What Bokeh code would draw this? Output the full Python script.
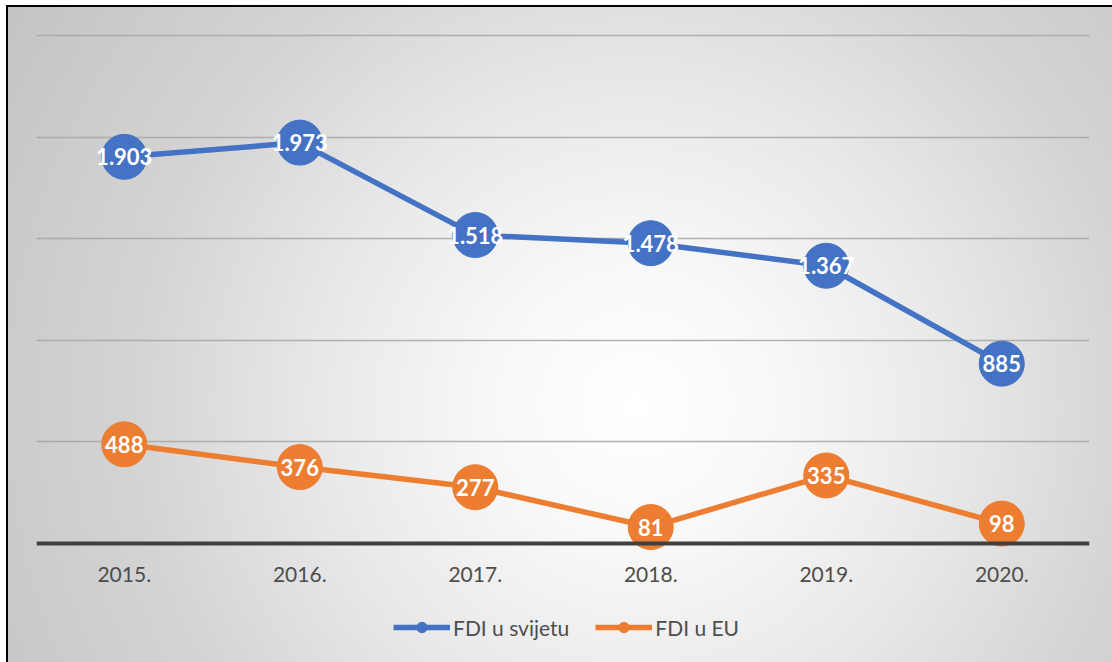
from bokeh.plotting import figure
from bokeh.models import ColumnDataSource, Legend, LegendItem, FactorRange, Range1d, FixedTicker
from bokeh.core.properties import value
from bokeh.embed import file_html
from bokeh.resources import INLINE

# ---- data ----
years = ["2015.", "2016.", "2017.", "2018.", "2019.", "2020."]
fdi_world = [1903, 1973, 1518, 1478, 1367, 885]
fdi_eu = [488, 376, 277, 81, 335, 98]
grid_ticks = [500, 1000, 1500, 2000, 2500]
series_names = ["FDI u svijetu", "FDI u EU"]


def fmt(v):
    return f"{v:,}".replace(",", ".")


src = ColumnDataSource(data=dict(
    year=years,
    world=fdi_world,
    eu=fdi_eu,
    world_lbl=[fmt(v) for v in fdi_world],
    eu_lbl=[fmt(v) for v in fdi_eu],
))

BLUE = "#4472C4"
ORANGE = "#ED7D31"
FONT = "Lato"

# frame covers the area below the baseline too (legend lives there);
# the category axis is pinned to y = 0
p = figure(frame_width=1053, frame_height=629,
           x_range=FactorRange(*years), y_range=Range1d(-585.7, 2510),
           output_backend="svg", toolbar_location=None,
           y_axis_location=None,
           min_border_left=36, min_border_right=23,
           min_border_top=33, min_border_bottom=0)

p.border_fill_alpha = 0
p.background_fill_alpha = 0
p.outline_line_color = None
p.styles = {
    "background": (
        "linear-gradient(#000,#000) 6px 5px / 100% 2px no-repeat, "
        "linear-gradient(#000,#000) 6px 5px / 2px 100% no-repeat, "
        "radial-gradient(circle at 630px 400px, #ffffff 0px, #f8f8f8 140px, "
        "#e8e8e8 320px, #d4d4d4 500px, #c4c4c4 740px) 6px 5px / 100% 100% no-repeat, "
        "#ffffff"
    )
}

p.xgrid.visible = False
p.ygrid.ticker = FixedTicker(ticks=grid_ticks)
p.ygrid.grid_line_color = "#a6a6a6"
p.ygrid.grid_line_alpha = 0.85
p.ygrid.grid_line_width = 1.3

p.xaxis.fixed_location = 0
p.xaxis.axis_line_color = "#404040"
p.xaxis.axis_line_width = 4
p.xaxis.major_tick_line_color = None
p.xaxis.minor_tick_line_color = None
p.xaxis.major_tick_out = 0
p.xaxis.major_tick_in = 0
p.xaxis.major_label_standoff = 24
p.xaxis.major_label_text_font = FONT
p.xaxis.major_label_text_font_size = "21px"
p.xaxis.major_label_text_color = "#4d4d4d"

l1 = p.line(x="year", y="world", source=src, line_color=BLUE, line_width=5.5)
s1 = p.scatter(x="year", y="world", source=src, size=45, fill_color=BLUE, line_color=BLUE)
l2 = p.line(x="year", y="eu", source=src, line_color=ORANGE, line_width=5.5)
s2 = p.scatter(x="year", y="eu", source=src, size=45, fill_color=ORANGE, line_color=ORANGE)

for col, lbl in (("world", "world_lbl"), ("eu", "eu_lbl")):
    p.text(x="year", y=col, text=lbl, source=src,
           text_align="center", text_baseline="middle",
           text_color="white", text_font=value(FONT),
           text_font_style="bold", text_font_size="22px")

legend = Legend(items=[LegendItem(label=series_names[0], renderers=[l1, s1]),
                       LegendItem(label=series_names[1], renderers=[l2, s2])],
                orientation="horizontal", location=(357, 22),
                glyph_width=57, glyph_height=26, label_standoff=3, spacing=26,
                padding=0, margin=0,
                background_fill_alpha=0, border_line_alpha=0,
                label_text_font=FONT, label_text_font_size="21px",
                label_text_color="#4d4d4d")
p.add_layout(legend, "center")

open("out.html", "w").write(file_html(p, INLINE))
